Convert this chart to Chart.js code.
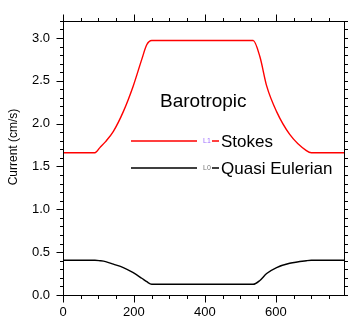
<!DOCTYPE html>
<html>
<head>
<meta charset="utf-8">
<script src="https://cdn.jsdelivr.net/npm/chart.js@4/dist/chart.umd.min.js"></script>
<style>
  html, body { margin: 0; padding: 0; background: #fff; }
</style>
</head>
<body>
<canvas id="myChart" width="348" height="322"></canvas>
<script>
// ==========================================
// Data
// ==========================================

const xs = [0, 90, 104, 120, 142, 170, 198, 222, 236, 250, 393, 536, 555, 574, 602, 639, 686, 700, 792];
const stokes = [1.66, 1.66, 1.72, 1.79, 1.91, 2.14, 2.44, 2.75, 2.92, 2.97, 2.97, 2.97, 2.78, 2.44, 2.14, 1.875, 1.685, 1.66, 1.66];
const quasi = [0.405, 0.405, 0.40, 0.39, 0.36, 0.32, 0.26, 0.195, 0.155, 0.125, 0.125, 0.125, 0.17, 0.25, 0.32, 0.37, 0.40, 0.405, 0.405];

const xTicks = [0, 200, 400, 600];
const yTicks = [0, 0.5, 1, 1.5, 2, 2.5, 3];

const FONT = "'Liberation Sans', Arial, Helvetica, sans-serif";

// frame, ticks, legend and labels drawn NCL style
const ncl = {
   id: "ncl",
   afterDraw(chart) {
      const { ctx, chartArea: a, scales: { x, y } } = chart;
      ctx.save();
      ctx.strokeStyle = "#000";
      ctx.lineWidth = 1;
      const L = Math.round(a.left) + 0.5;
      const R = Math.round(a.right) + 0.5;
      const T = Math.round(a.top) + 0.5;
      const B = Math.round(a.bottom) + 0.5;
      ctx.strokeRect(L, T, R - L, B - T);
      ctx.beginPath();
      for (let v = 0; v <= x.max; v += 50) {
         const px = Math.round(x.getPixelForValue(v)) + 0.5;
         const len = v % 200 == 0 ? 7 : 3.5;
         ctx.moveTo(px, B); ctx.lineTo(px, B + len);
         ctx.moveTo(px, T); ctx.lineTo(px, T - len);
      }
      for (let i = 0; i <= 32; i++) {
         const py = Math.round(y.getPixelForValue(i / 10)) + 0.5;
         const len = i % 5 == 0 ? 7 : 3.5;
         ctx.moveTo(L, py); ctx.lineTo(L - len, py);
         ctx.moveTo(R, py); ctx.lineTo(R + len, py);
      }
      ctx.stroke();

      // y axis title
      ctx.fillStyle = "#000";
      ctx.save();
      ctx.translate(13.5, 147);
      ctx.rotate(-Math.PI / 2);
      ctx.font = "12px " + FONT;
      ctx.textAlign = "center";
      ctx.textBaseline = "middle";
      ctx.fillText("Current (cm/s)", 0, 0);
      ctx.restore();

      // label
      ctx.font = "19px " + FONT;
      ctx.textAlign = "left";
      ctx.textBaseline = "alphabetic";
      ctx.fillText("Barotropic", 160, 107);

      // legend
      const items = [
         ["L1", "Stokes", "#ff0000", "#a070ff", 141],
         ["L0", "Quasi Eulerian", "#000000", "#777777", 168]
      ];
      items.forEach((it) => {
         ctx.strokeStyle = it[2];
         ctx.lineWidth = 1.3;
         ctx.beginPath();
         ctx.moveTo(131, it[4]); ctx.lineTo(197, it[4]);
         ctx.moveTo(212, it[4]); ctx.lineTo(219, it[4]);
         ctx.stroke();
         ctx.fillStyle = it[3];
         ctx.font = "7px " + FONT;
         ctx.textBaseline = "middle";
         ctx.fillText(it[0], 203, it[4]);
         ctx.fillStyle = "#000";
         ctx.font = "17px " + FONT;
         ctx.textBaseline = "alphabetic";
         ctx.fillText(it[1], 221, it[4] + 6);
      });
      ctx.restore();
   }
};

const ctx = document.getElementById("myChart");

let chart = new Chart(ctx, {
   type: "line",
   data: {
      datasets: [{
         label: "Stokes",
         data: xs.map((v, i) => ({ x: v, y: stokes[i] })),
         borderColor: "#ff0000",
         borderWidth: 1.4,
         pointRadius: 0,
         cubicInterpolationMode: "monotone"
      }, {
         label: "Quasi Eulerian",
         data: xs.map((v, i) => ({ x: v, y: quasi[i] })),
         borderColor: "#000000",
         borderWidth: 1.4,
         pointRadius: 0,
         cubicInterpolationMode: "monotone"
      }]
   },
   options: {
      responsive: false,
      animation: false,
      events: [],
      layout: { padding: { top: 13, right: 4, left: 0, bottom: 0 } },
      plugins: { legend: { display: false }, tooltip: { enabled: false } },
      scales: {
         x: {
            type: "linear",
            min: 0,
            max: 792,
            afterBuildTicks: (s) => { s.ticks = xTicks.map((v) => ({ value: v })); },
            afterFit: (s) => { s.height = 27; },
            grid: { display: false, drawTicks: false },
            border: { display: false },
            ticks: { color: "#000", font: { family: FONT, size: 13 }, padding: 10, maxRotation: 0 }
         },
         y: {
            min: 0,
            max: 3.2,
            afterBuildTicks: (s) => { s.ticks = yTicks.map((v) => ({ value: v })); },
            afterFit: (s) => { s.width = 63; },
            grid: { display: false, drawTicks: false },
            border: { display: false },
            ticks: {
               color: "#000",
               font: { family: FONT, size: 13 },
               padding: 13,
               callback: (v) => v.toFixed(1)
            }
         }
      }
   },
   plugins: [ncl]
});
</script>
</body>
</html>
